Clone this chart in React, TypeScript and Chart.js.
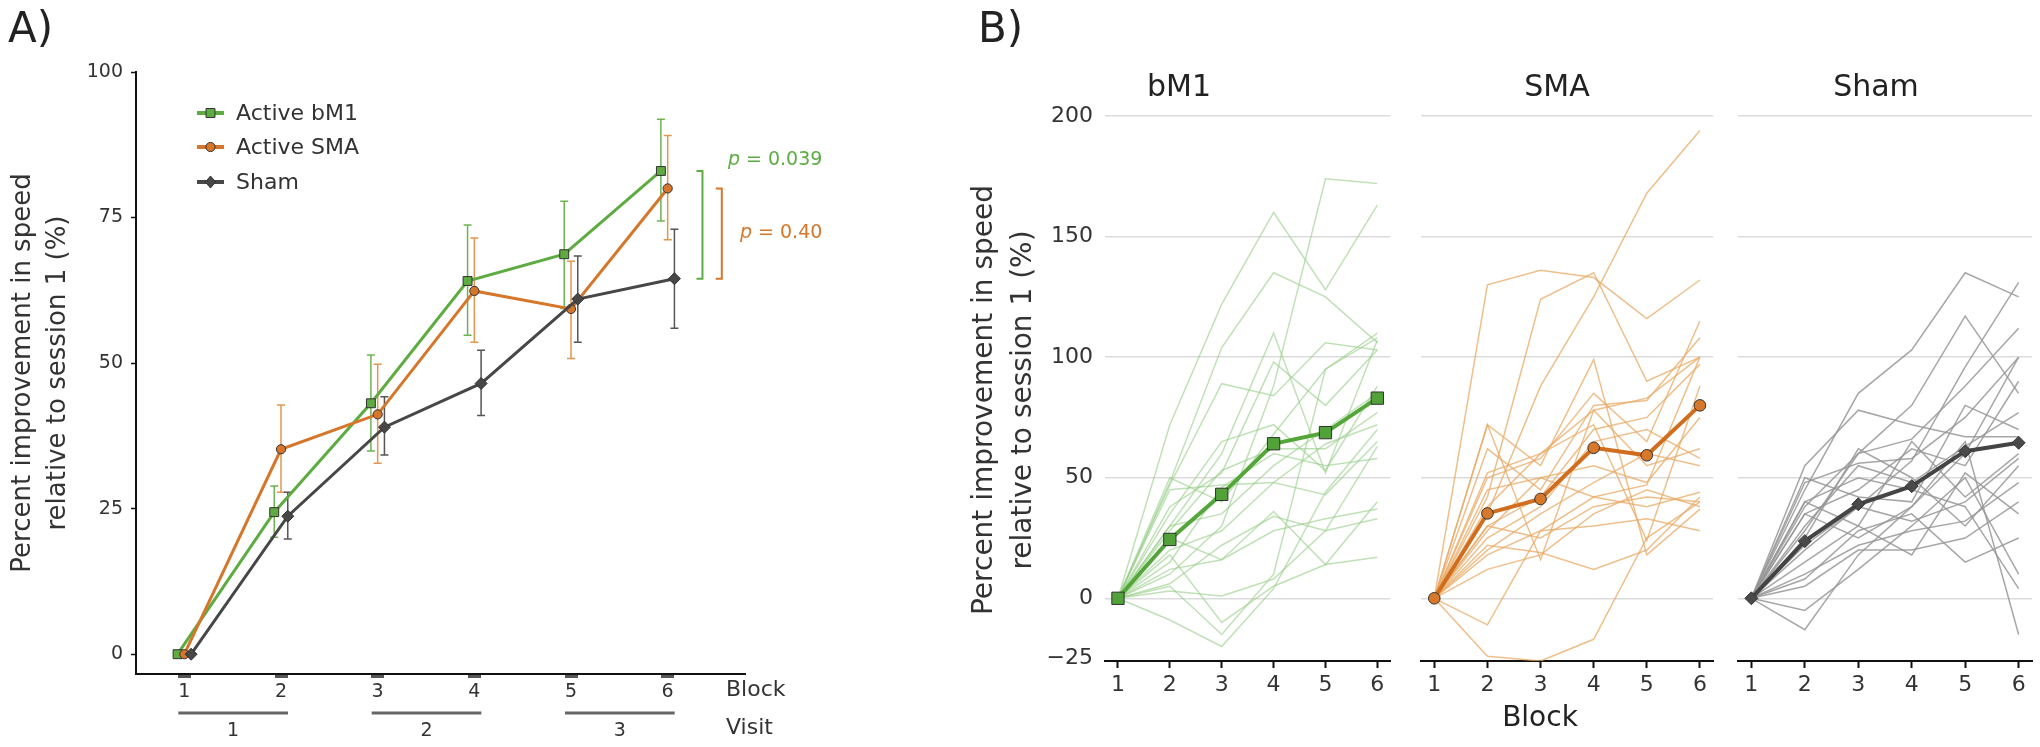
import React, { useEffect, useRef } from 'react';
import { Chart, registerables } from 'chart.js';

Chart.register(...registerables);

const F = 'DejaVu Sans';

// ---------- data ----------
const blocks = [1, 2, 3, 4, 5, 6];
const yTicksA = [0, 25, 50, 75, 100];
const yTicksB = [-25, 0, 50, 100, 150, 200];
const visitLabels = ['1', '2', '3'];
const visitBlocks = [[1, 2], [3, 4], [5, 6]];

const bm1Mean = [0, 24.4, 43.1, 64.1, 68.7, 83.0];
const bm1Lo = [0, 20.1, 34.9, 54.8, 59.4, 74.4];
const bm1Hi = [0, 28.9, 51.4, 73.7, 77.8, 91.9];

const smaMean = [0, 35.2, 41.2, 62.4, 59.3, 80.0];
const smaLo = [0, 27.8, 32.8, 53.6, 50.8, 71.2];
const smaHi = [0, 42.8, 49.8, 71.5, 67.5, 89.1];

const shamMean = [0, 23.7, 39.0, 46.5, 61.0, 64.5];
const shamLo = [0, 19.8, 34.2, 41.0, 53.6, 56.0];
const shamHi = [0, 27.8, 44.2, 52.2, 68.4, 73.0];

const pLabels = ['0.039', '0.40'];

const bm1Subjects = [
  [0, 72, 122, 160, 128, 163],
  [0, 48, 104, 135, 125, 106],
  [0, 10, 30, 88, 174, 172],
  [0, 30, 60, 110, 52, 107],
  [0, 47, 89, 84, 106, 103],
  [0, 38, 52, 98, 80, 103],
  [0, 50, 40, 68, 95, 110],
  [0, 35, 65, 72, 53, 88],
  [0, 28, 53, 62, 62, 77],
  [0, 45, 47, 48, 64, 72],
  [0, 20, 28, 48, 43, 65],
  [0, 15, 46, 60, 55, 58],
  [0, 25, 16, 36, 14, 40],
  [0, 12, 16, 28, 33, 37],
  [0, 6, 22, 34, 28, 33],
  [0, -9, -20, 4, 44, 70],
  [0, 3, 1, 8, 28, 63],
  [0, 18, -10, 5, 14, 17],
  [0, 5, -15, 10, 95, 108],
  [0, 30, 35, 55, 70, 85],
];

const smaSubjects = [
  [0, 35, 88, 125, 168, 194],
  [0, 130, 136, 133, 116, 132],
  [0, 42, 124, 135, 90, 100],
  [0, 72, 55, 99, 18, 37],
  [0, 72, 16, 78, 55, 62],
  [0, 50, 58, 85, 65, 115],
  [0, 62, 45, 80, 82, 108],
  [0, 38, 60, 78, 83, 100],
  [0, 30, 42, 70, 75, 97],
  [0, 25, 38, 65, 70, 58],
  [0, 45, 50, 55, 48, 75],
  [0, 20, 35, 48, 60, 55],
  [0, 30, 25, 38, 42, 40],
  [0, 12, 18, 35, 45, 38],
  [0, 18, 28, 30, 33, 28],
  [0, 22, 19, 12, 20, 42],
  [0, -11, 28, 42, 47, 100],
  [0, -24, -26, -17, 25, 40],
  [0, 28, 50, 42, 38, 44],
  [0, 52, 60, 72, 24, 88],
];

const shamSubjects = [
  [0, 45, 85, 103, 135, 125],
  [0, 28, 60, 80, 117, 85],
  [0, 20, 38, 57, 96, 131],
  [0, 38, 60, 66, 88, 112],
  [0, 55, 78, 72, 67, 67],
  [0, 48, 56, 58, 75, 100],
  [0, 35, 45, 62, 55, 90],
  [0, 30, 55, 48, 63, 77],
  [0, 50, 42, 40, 80, 70],
  [0, 40, 30, 65, 42, 60],
  [0, 25, 62, 50, 30, 55],
  [0, 15, 30, 18, 52, 35],
  [0, 10, 22, 28, 32, 48],
  [0, 5, 20, 20, 25, 40],
  [0, 35, 25, 38, 65, -15],
  [0, -5, 12, 30, 50, 10],
  [0, -13, 18, 38, 60, 100],
  [0, 8, 28, 35, 15, 25],
  [0, 40, 50, 45, 38, 4],
  [0, 22, 38, 32, 40, 58],
];

// ---------- helpers ----------
type TextItem = { text: string; x: number; y: number; font: string; color?: string; align?: CanvasTextAlign; rotate?: number };

const textPlugin = (id: string, items: TextItem[]) => ({
  id,
  afterDraw(chart: any) {
    const ctx = chart.ctx;
    items.forEach((t) => {
      ctx.save();
      ctx.font = t.font;
      ctx.fillStyle = t.color || '#333';
      ctx.textAlign = t.align || 'left';
      ctx.textBaseline = 'middle';
      ctx.translate(t.x, t.y);
      if (t.rotate) ctx.rotate(t.rotate);
      ctx.fillText(t.text, 0, 0);
      ctx.restore();
    });
  },
});

function drawMarker(ctx: any, style: string, x: number, y: number, r: number, fill: string, stroke: string) {
  ctx.save();
  ctx.beginPath();
  if (style === 'rect') {
    const s = r * Math.SQRT1_2;
    ctx.rect(x - s, y - s, 2 * s, 2 * s);
  } else if (style === 'circle') {
    ctx.arc(x, y, r, 0, Math.PI * 2);
  } else {
    ctx.moveTo(x, y - r);
    ctx.lineTo(x + r * 0.85, y);
    ctx.lineTo(x, y + r);
    ctx.lineTo(x - r * 0.85, y);
    ctx.closePath();
  }
  ctx.fillStyle = fill;
  ctx.fill();
  ctx.strokeStyle = stroke;
  ctx.lineWidth = 1;
  ctx.stroke();
  ctx.restore();
}

function ChartCanvas({ left, width, makeConfig }: { left: number; width: number; makeConfig: () => any }) {
  const ref = useRef<HTMLCanvasElement>(null);
  useEffect(() => {
    const chart = new Chart(ref.current as HTMLCanvasElement, makeConfig());
    return () => chart.destroy();
  }, []);
  return (
    <canvas
      ref={ref}
      width={width}
      height={747}
      style={{ position: 'absolute', left, top: 0, width, height: 747, display: 'block' }}
    />
  );
}

// ---------- panel A ----------
const groupsA = [
  { label: 'Active bM1', mean: bm1Mean, lo: bm1Lo, hi: bm1Hi, off: -0.07, color: '#5dab41', err: '#6cb451', style: 'rect', r: 6.3, order: 3 },
  { label: 'Active SMA', mean: smaMean, lo: smaLo, hi: smaHi, off: 0, color: '#d5762a', err: '#e2964f', style: 'circle', r: 4.6, order: 2 },
  { label: 'Sham', mean: shamMean, lo: shamLo, hi: shamHi, off: 0.07, color: '#474747', err: '#555555', style: 'rectRot', r: 6, order: 1 },
];

function panelAConfig() {
  const errorBars = {
    id: 'errbars',
    beforeDatasetsDraw(chart: any) {
      const { ctx } = chart;
      const x = chart.scales.x, y = chart.scales.y;
      groupsA.forEach((g) => {
        ctx.save();
        ctx.strokeStyle = g.err;
        ctx.lineWidth = 1.5;
        blocks.forEach((b, i) => {
          if (g.hi[i] <= g.lo[i]) return;
          const px = x.getPixelForValue(b + g.off);
          const y1 = y.getPixelForValue(g.lo[i]);
          const y2 = y.getPixelForValue(g.hi[i]);
          ctx.beginPath();
          ctx.moveTo(px, y1); ctx.lineTo(px, y2);
          ctx.moveTo(px - 4, y1); ctx.lineTo(px + 4, y1);
          ctx.moveTo(px - 4, y2); ctx.lineTo(px + 4, y2);
          ctx.stroke();
        });
        ctx.restore();
      });
    },
  };

  const legend = {
    id: 'legendA',
    afterDraw(chart: any) {
      const ctx = chart.ctx;
      const ys = [113, 147, 182];
      groupsA.forEach((g, i) => {
        ctx.save();
        ctx.strokeStyle = g.color;
        ctx.lineWidth = 4;
        ctx.beginPath();
        ctx.moveTo(197, ys[i]);
        ctx.lineTo(224, ys[i]);
        ctx.stroke();
        ctx.restore();
        drawMarker(ctx, g.style, 210.5, ys[i], g.r, g.color, '#333');
        ctx.save();
        ctx.font = `22px ${F}`;
        ctx.fillStyle = '#333';
        ctx.textBaseline = 'middle';
        ctx.fillText(g.label, 236, ys[i] + 1);
        ctx.restore();
      });
    },
  };

  const brackets = [
    { top: bm1Mean[5], bottom: shamMean[5], xv: 6.36, color: '#5dab41', label: pLabels[0], textAbove: true },
    { top: smaMean[5], bottom: shamMean[5], xv: 6.56, color: '#d5762a', label: pLabels[1], textAbove: false },
  ];
  const bracketPlugin = {
    id: 'brackets',
    afterDatasetsDraw(chart: any) {
      const { ctx } = chart;
      const x = chart.scales.x, y = chart.scales.y;
      const right = x.getPixelForValue(7.6);
      brackets.forEach((b) => {
        const bx = x.getPixelForValue(b.xv);
        const yt = y.getPixelForValue(b.top);
        const yb = y.getPixelForValue(b.bottom);
        ctx.save();
        ctx.strokeStyle = b.color;
        ctx.lineWidth = 2;
        ctx.beginPath();
        ctx.moveTo(bx - 6, yt); ctx.lineTo(bx, yt); ctx.lineTo(bx, yb); ctx.lineTo(bx - 6, yb);
        ctx.stroke();
        const rest = ' = ' + b.label;
        ctx.font = `19px ${F}`;
        const w1 = ctx.measureText(rest).width;
        ctx.font = `italic 19px ${F}`;
        const w2 = ctx.measureText('p').width;
        const ty = b.textAbove ? yt - 11 : (yt + yb) / 2;
        ctx.fillStyle = b.color;
        ctx.textBaseline = 'middle';
        ctx.textAlign = 'left';
        ctx.fillText('p', right - w1 - w2, ty);
        ctx.font = `19px ${F}`;
        ctx.fillText(rest, right - w1, ty);
        ctx.restore();
      });
    },
  };

  const visits = {
    id: 'visits',
    afterDraw(chart: any) {
      const { ctx } = chart;
      const x = chart.scales.x;
      visitBlocks.forEach((vb, i) => {
        const x1 = x.getPixelForValue(vb[0]) - 6;
        const x2 = x.getPixelForValue(vb[1]) + 7;
        ctx.save();
        ctx.strokeStyle = '#666';
        ctx.lineWidth = 3;
        ctx.beginPath();
        ctx.moveTo(x1, 713);
        ctx.lineTo(x2, 713);
        ctx.stroke();
        ctx.font = `19px ${F}`;
        ctx.fillStyle = '#333';
        ctx.textAlign = 'center';
        ctx.textBaseline = 'middle';
        ctx.fillText(visitLabels[i], (x1 + x2) / 2, 731);
        ctx.restore();
      });
    },
  };

  const texts = textPlugin('textsA', [
    { text: 'A)', x: 8, y: 31, font: `42px ${F}`, color: '#222' },
    { text: 'Percent improvement in speed', x: 23, y: 373, font: `26px ${F}`, align: 'center', rotate: -Math.PI / 2 },
    { text: 'relative to session 1 (%)', x: 58, y: 373, font: `26px ${F}`, align: 'center', rotate: -Math.PI / 2 },
    { text: 'Block', x: 726, y: 690, font: `22px ${F}` },
    { text: 'Visit', x: 726, y: 728, font: `22px ${F}` },
  ]);

  return {
    type: 'line',
    data: {
      datasets: groupsA.map((g) => ({
        label: g.label,
        data: g.mean.map((v, i) => ({ x: blocks[i] + g.off, y: v })),
        borderColor: g.color,
        borderWidth: 3,
        pointStyle: g.style,
        pointRadius: g.r,
        pointBackgroundColor: g.color,
        pointBorderColor: '#333',
        pointBorderWidth: 1,
        tension: 0,
        order: g.order,
        clip: false,
      })),
    },
    options: {
      responsive: false,
      animation: false,
      layout: { padding: { left: 0, right: 960 - 745, top: 72, bottom: 0 } },
      plugins: { legend: { display: false }, tooltip: { enabled: false }, title: { display: false } },
      scales: {
        x: {
          type: 'linear',
          min: 0.5,
          max: 6.8,
          afterBuildTicks: (s: any) => { s.ticks = blocks.map((v) => ({ value: v })); },
          afterFit: (s: any) => { s.height = 747 - 674; },
          grid: { display: true, drawOnChartArea: false, drawTicks: true, tickLength: 4, tickWidth: 13, tickColor: '#555' },
          border: { display: true, color: '#111', width: 2 },
          ticks: { font: { family: F, size: 19 }, color: '#333', padding: 3, maxRotation: 0, autoSkip: false },
        },
        y: {
          type: 'linear',
          min: -3.4,
          max: 100,
          afterBuildTicks: (s: any) => { s.ticks = yTicksA.map((v) => ({ value: v })); },
          afterFit: (s: any) => { s.width = 136; },
          grid: { display: true, drawOnChartArea: false, drawTicks: true, tickLength: 5, tickWidth: 1.5, tickColor: '#111' },
          border: { display: true, color: '#111', width: 2 },
          ticks: { font: { family: F, size: 19 }, color: '#333', padding: 8 },
        },
      },
    },
    plugins: [errorBars, bracketPlugin, legend, visits, texts],
  };
}

// ---------- panel B facets ----------
function facetConfig(o: {
  title: string; subjects: number[][]; mean: number[]; light: string; color: string; markerFill: string;
  style: string; radius: number; chartLeft: number; padRight: number; showY: boolean; texts: TextItem[]; id: string;
}) {
  const datasets: any[] = [
    {
      data: o.mean.map((v, i) => ({ x: blocks[i], y: v })),
      borderColor: o.color,
      borderWidth: 4,
      pointStyle: o.style,
      pointRadius: o.radius,
      pointBackgroundColor: o.markerFill,
      pointBorderColor: '#333',
      pointBorderWidth: 1,
      tension: 0,
      order: 0,
      clip: false,
    },
    ...o.subjects.map((s) => ({
      data: s.map((v, i) => ({ x: blocks[i], y: v })),
      borderColor: o.light,
      borderWidth: 1.5,
      pointRadius: 0,
      tension: 0,
      order: 1,
    })),
  ];
  return {
    type: 'line',
    data: { datasets },
    options: {
      responsive: false,
      animation: false,
      layout: { padding: { left: 0, right: o.padRight, top: 70, bottom: 0 } },
      plugins: {
        legend: { display: false },
        tooltip: { enabled: false },
        title: {
          display: true,
          text: o.title,
          font: { family: F, size: 30, weight: 'normal', lineHeight: 1.2 },
          color: '#222',
          padding: { top: 0, bottom: 10 },
        },
      },
      scales: {
        x: {
          type: 'linear',
          min: 0.75,
          max: 6.25,
          afterBuildTicks: (s: any) => { s.ticks = blocks.map((v) => ({ value: v })); },
          afterFit: (s: any) => { s.height = 747 - 661; },
          grid: { display: true, drawOnChartArea: false, drawTicks: true, tickLength: 7, tickWidth: 2, tickColor: '#111' },
          border: { display: true, color: '#111', width: 2 },
          ticks: { font: { family: F, size: 22 }, color: '#333', padding: 4, maxRotation: 0, autoSkip: false },
        },
        y: {
          type: 'linear',
          min: -26,
          max: 200,
          afterBuildTicks: (s: any) => { s.ticks = yTicksB.map((v) => ({ value: v })); },
          afterFit: (s: any) => { s.width = o.chartLeft; },
          grid: {
            display: true,
            drawTicks: false,
            lineWidth: 1.5,
            color: (c: any) => (c.tick && c.tick.value < 0 ? 'rgba(0,0,0,0)' : '#dcdcdc'),
          },
          border: { display: false },
          ticks: {
            display: o.showY,
            font: { family: F, size: 22 },
            color: '#333',
            padding: 12,
            callback: (v: any) => String(v).replace('-', '\u2212'),
          },
        },
      },
    },
    plugins: [textPlugin(o.id, o.texts)],
  };
}

const facet1 = () =>
  facetConfig({
    id: 'tB1',
    title: 'bM1',
    subjects: bm1Subjects,
    mean: bm1Mean,
    light: 'rgba(150,205,135,0.6)',
    color: '#55a63a',
    markerFill: '#52a23a',
    style: 'rect',
    radius: 8.7,
    chartLeft: 145,
    padRight: 2,
    showY: true,
    texts: [
      { text: 'B)', x: 18, y: 31, font: `42px ${F}`, color: '#222' },
      { text: 'Percent improvement in speed', x: 25, y: 400, font: `28px ${F}`, align: 'center', rotate: -Math.PI / 2 },
      { text: 'relative to session 1 (%)', x: 64, y: 400, font: `28px ${F}`, align: 'center', rotate: -Math.PI / 2 },
    ],
  });

const facet2 = () =>
  facetConfig({
    id: 'tB2',
    title: 'SMA',
    subjects: smaSubjects,
    mean: smaMean,
    light: 'rgba(232,170,100,0.75)',
    color: '#d06d1e',
    markerFill: '#d7782a',
    style: 'circle',
    radius: 5.8,
    chartLeft: 21,
    padRight: 6,
    showY: false,
    texts: [{ text: 'Block', x: 140, y: 719, font: `28px ${F}`, align: 'center', color: '#222' }],
  });

const facet3 = () =>
  facetConfig({
    id: 'tB3',
    title: 'Sham',
    subjects: shamSubjects,
    mean: shamMean,
    light: 'rgba(150,150,150,0.85)',
    color: '#444444',
    markerFill: '#4a4a4a',
    style: 'rectRot',
    radius: 6.5,
    chartLeft: 18,
    padRight: 8,
    showY: false,
    texts: [],
  });

export default function App() {
  return (
    <div style={{ position: 'absolute', left: 0, top: 0, width: 2040, height: 747, background: '#fff', overflow: 'hidden' }}>
      <ChartCanvas left={0} width={960} makeConfig={panelAConfig} />
      <ChartCanvas left={960} width={440} makeConfig={facet1} />
      <ChartCanvas left={1400} width={320} makeConfig={facet2} />
      <ChartCanvas left={1720} width={320} makeConfig={facet3} />
    </div>
  );
}
